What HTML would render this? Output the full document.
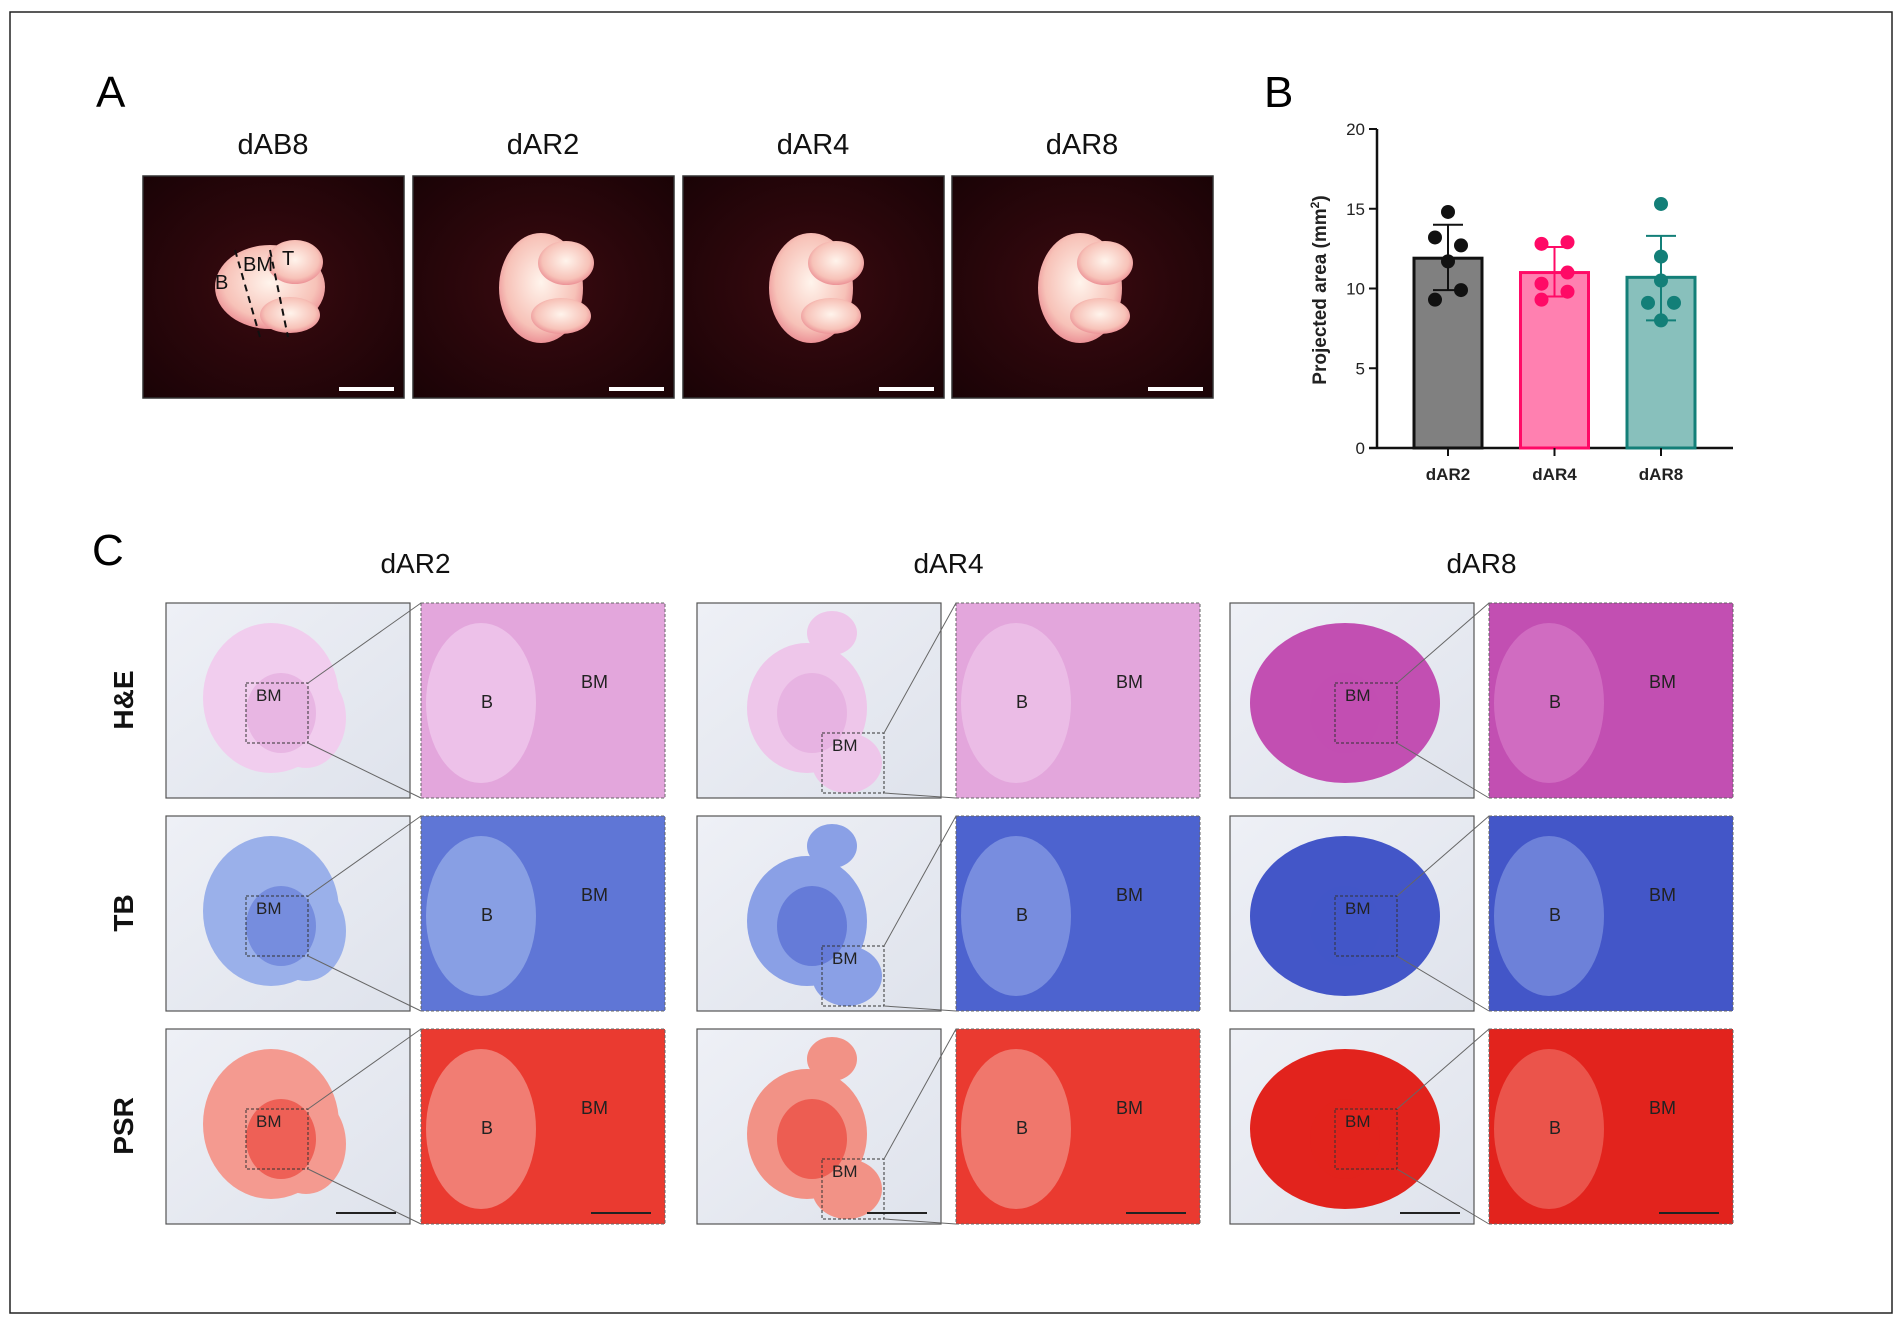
<!DOCTYPE html>
<html><head><meta charset="utf-8"><style>
body{margin:0;background:#fff;}
svg{display:block;font-family:"Liberation Sans",Arial,sans-serif;}
</style></head><body>
<svg id="fig" width="1903" height="1327" viewBox="0 0 1903 1327">
<defs>
<radialGradient id="dark" cx="50%" cy="50%" r="70%"><stop offset="0" stop-color="#3a0a10"/><stop offset="1" stop-color="#1a0306"/></radialGradient>
<radialGradient id="tis" cx="50%" cy="45%" r="60%"><stop offset="0" stop-color="#fff4ec"/><stop offset="0.7" stop-color="#f7c2b8"/><stop offset="1" stop-color="#e8808a"/></radialGradient>
<linearGradient id="slide" x1="0" y1="0" x2="1" y2="1"><stop offset="0" stop-color="#eef0f6"/><stop offset="1" stop-color="#dfe3ec"/></linearGradient>
</defs>
<rect x="10" y="12" width="1882" height="1301" fill="#fff" stroke="#222" stroke-width="1.5"/>
<text x="96" y="107" font-size="44">A</text>
<text x="1264" y="107" font-size="44">B</text>
<text x="92" y="565" font-size="44">C</text>
<g id="panelA"></g>
<g id="panelC"></g>
<g id="chart"></g>
</svg>
<script>
// ---- chart data ----
const categories=["dAR2","dAR4","dAR8"];
const means=[11.9,11.0,10.7];
const sdLow=[9.9,9.5,8.0];
const sdHigh=[14.0,12.6,13.3];
const points2=[14.8,13.2,12.7,11.7,9.9,9.3];
const points4=[12.8,12.9,11.0,10.3,9.8,9.3];
const points8=[15.3,12.0,10.5,9.1,9.1,8.0];
const yTicks=[0,5,10,15,20];
const NS="http://www.w3.org/2000/svg";
function mk(parent,tag,attrs,text){const e=document.createElementNS(NS,tag);for(const k in attrs)e.setAttribute(k,attrs[k]);if(text!==undefined)e.textContent=text;parent.appendChild(e);return e;}
const chart=document.getElementById('chart');
const y0=448,y1=129,xAxis=1377;
const yS=v=>y0-(v/20)*(y0-y1);
const xS=i=>1448+i*106.5;
const fills=["#808080","#ff80b0","#88c0bc"],strokes=["#111","#ff0a66","#137f78"];
const pts=[points2,points4,points8];
const jit=[[0,-1,1,0,1,-1],[-1,1,1,-1,1,-1],[0,0,0,-1,1,0]];
let e;
e=mk(chart,'line',{x1:xAxis,y1:y1,x2:xAxis,y2:y0+1,stroke:'#111','stroke-width':2.5});

e=mk(chart,'line',{x1:xAxis-8,y1:y0,x2:1733,y2:y0,stroke:'#111','stroke-width':2.5});

yTicks.forEach(t=>{
 e=mk(chart,'line',{x1:xAxis-8,y1:yS(t),x2:xAxis,y2:yS(t),stroke:'#111','stroke-width':2});
 
 e=mk(chart,'text',{x:xAxis-12,y:yS(t)+6,'font-size':17,'text-anchor':'end',fill:'#222'},t);
 
});
e=mk(chart,'text',{transform:'translate(1326,290) rotate(-90)','font-size':19,'font-weight':'bold','text-anchor':'middle',fill:'#222'});

e.innerHTML='Projected area (mm<tspan dy="-7" font-size="12">2</tspan><tspan dy="7">)</tspan>';
categories.forEach((c,i)=>{
 const cx=xS(i),w=68;
 e=mk(chart,'rect',{x:cx-w/2,y:yS(means[i]),width:w,height:y0-yS(means[i]),fill:fills[i],stroke:strokes[i],'stroke-width':3});
 
 e=mk(chart,'line',{x1:cx,y1:yS(sdHigh[i]),x2:cx,y2:yS(sdLow[i]),stroke:strokes[i],'stroke-width':2});
 
 [sdHigh[i],sdLow[i]].forEach(v=>{e=mk(chart,'line',{x1:cx-15,y1:yS(v),x2:cx+15,y2:yS(v),stroke:strokes[i],'stroke-width':2});
 });
 pts[i].forEach((v,j)=>{e=mk(chart,'circle',{cx:cx+jit[i][j]*13,cy:yS(v),r:7,fill:strokes[i]});
 });
 e=mk(chart,'line',{x1:cx,y1:y0,x2:cx,y2:y0+8,stroke:'#111','stroke-width':2});
 
 e=mk(chart,'text',{x:cx,y:y0+32,'font-size':17,'font-weight':'bold','text-anchor':'middle',fill:'#222'},c);
 
});
// ---- panel A photos ----
const pa=document.getElementById('panelA');
const aTitles=["dAB8","dAR2","dAR4","dAR8"];
const aX=[143,413,683,952];
aTitles.forEach((t,i)=>{
 const x=aX[i];
 e=mk(pa,'text',{x:x+130,y:154,'font-size':29,'text-anchor':'middle',fill:'#111'},t);
 
 e=mk(pa,'rect',{x:x,y:176,width:261,height:222,fill:'url(#dark)',stroke:'#333','stroke-width':1.5});
 
 const g=mk(pa,'g',{});
 const cx=x+(i==0?127:128),cy=i==0?287:288;
 mk(g,'ellipse',{cx:cx,cy:cy,rx:i==0?55:42,ry:i==0?42:55,fill:'url(#tis)'});
 mk(g,'ellipse',{cx:cx+25,cy:cy-25,rx:28,ry:22,fill:'url(#tis)'});
 mk(g,'ellipse',{cx:cx+20,cy:cy+28,rx:30,ry:18,fill:'url(#tis)'});
 e=mk(pa,'rect',{x:x+196,y:387,width:55,height:4,fill:'#fff'});
 
});
mk(pa,'text',{x:215,y:289,'font-size':20,fill:'#111'},'B');
mk(pa,'text',{x:243,y:271,'font-size':20,fill:'#111'},'BM');
mk(pa,'text',{x:282,y:265,'font-size':20,fill:'#111'},'T');
mk(pa,'path',{d:'M235 250 L260 337 M270 250 L288 337',stroke:'#111','stroke-width':2,'stroke-dasharray':'7,5',fill:'none'});
// ---- panel C histology ----
const pc=document.getElementById('panelC');
const cols=["dAR2","dAR4","dAR8"];
const colX=[[166,421],[697,956],[1230,1489]];
const rows=["H&E","TB","PSR"];
const rowY=[603,816,1029];
const stain=[["#e3a6dc","#e3a6dc","#c24fb2"],["#5f76d6","#4d63cf","#4356c8"],["#ea3a30","#ea3a30","#e2231d"]];
const stainHi=[["#f1cdee","#eec6ea","#d679c8"],["#9ab0ea","#8aa0e6","#7f94e0"],["#f49a90","#f29286","#ef6a60"]];
cols.forEach((c,ci)=>{
 e=mk(pc,'text',{x:(colX[ci][0]+colX[ci][1]+244)/2,y:573,'font-size':28,'text-anchor':'middle',fill:'#111'},c);
 
});
rows.forEach((r,ri)=>{
 e=mk(pc,'text',{transform:`translate(133,${rowY[ri]+97}) rotate(-90)`,'font-size':28,'font-weight':'bold','text-anchor':'middle',fill:'#111'},r);
 
 cols.forEach((c,ci)=>{
  const x=colX[ci][0],xz=colX[ci][1],y=rowY[ri],w=244,h=195;
  const col=stain[ri][ci],hi=stainHi[ri][ci];
  e=mk(pc,'rect',{x:x,y:y,width:w,height:h,fill:'url(#slide)',stroke:'#555','stroke-width':1.2});
  
  const g=mk(pc,'g',{});
  if(ci==2){mk(g,'ellipse',{cx:x+115,cy:y+100,rx:95,ry:80,fill:col});}
  else if(ci==0){mk(g,'ellipse',{cx:x+105,cy:y+95,rx:68,ry:75,fill:hi});mk(g,'ellipse',{cx:x+140,cy:y+115,rx:40,ry:50,fill:hi});}
  else{mk(g,'ellipse',{cx:x+110,cy:y+105,rx:60,ry:65,fill:hi});mk(g,'ellipse',{cx:x+135,cy:y+30,rx:25,ry:22,fill:hi});mk(g,'ellipse',{cx:x+150,cy:y+160,rx:35,ry:30,fill:hi});}
  mk(g,'ellipse',{cx:x+115,cy:y+110,rx:35,ry:40,fill:col,opacity:0.6});
  const bx=x+(ci==1?125:ci==2?105:80),by=y+(ci==1?130:80);
  mk(pc,'rect',{x:bx,y:by,width:62,height:60,fill:'none',stroke:'#333','stroke-dasharray':'3,2'});
  mk(pc,'path',{d:`M${bx+62} ${by} L${xz} ${y} M${bx+62} ${by+60} L${xz} ${y+h}`,stroke:'#666','stroke-width':1});
  e=mk(pc,'rect',{x:xz,y:y,width:w,height:h,fill:col,stroke:'#666','stroke-width':1,'stroke-dasharray':'3,2'});
  
  mk(pc,'ellipse',{cx:xz+60,cy:y+100,rx:55,ry:80,fill:hi,opacity:0.7});
  mk(pc,'text',{x:xz+60,y:y+105,'font-size':18,fill:'#222'},'B');
  mk(pc,'text',{x:xz+160,y:y+85,'font-size':18,fill:'#222'},'BM');
  mk(pc,'text',{x:bx+10,y:by+18,'font-size':17,fill:'#222'},'BM');
  if(ri==2){mk(pc,'rect',{x:x+170,y:y+183,width:60,height:2,fill:'#222'});mk(pc,'rect',{x:xz+170,y:y+183,width:60,height:2,fill:'#222'});}
 });
});
</script>
</body></html>
